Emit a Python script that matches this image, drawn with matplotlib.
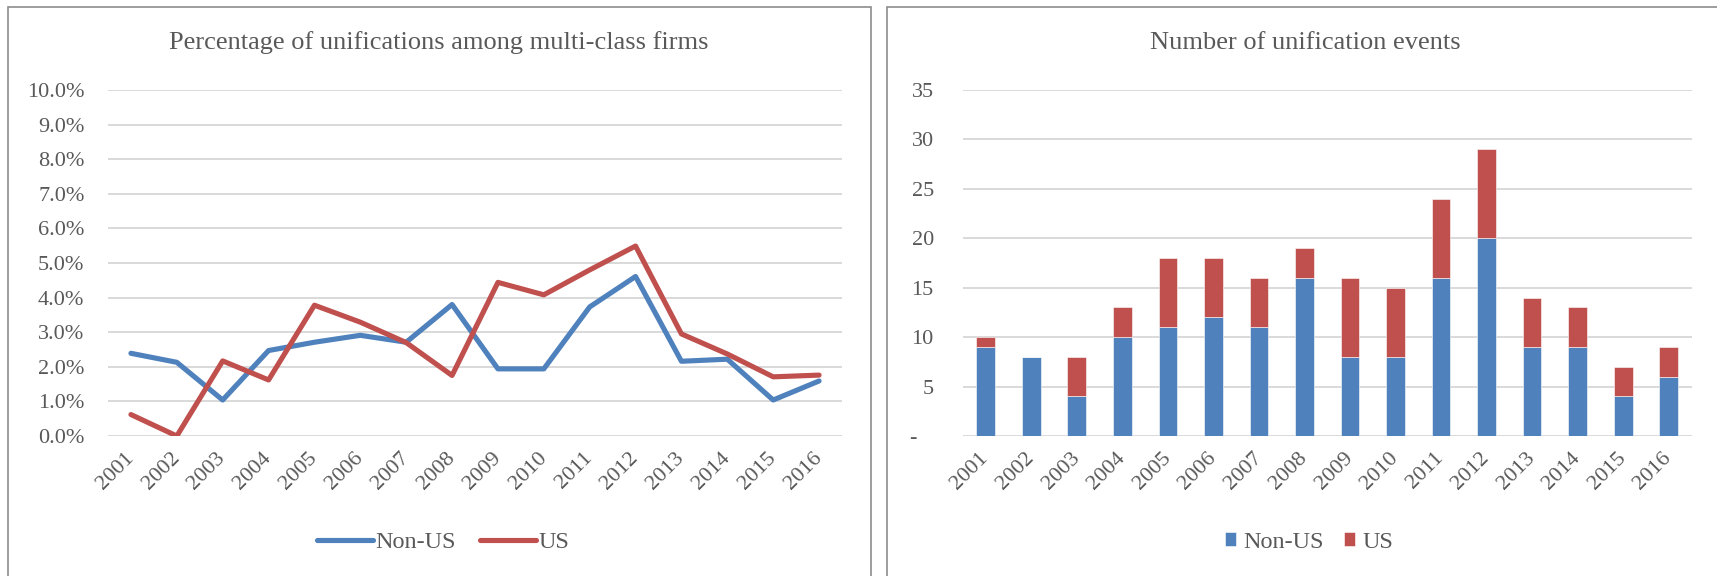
import matplotlib
matplotlib.use("Agg")
import matplotlib.pyplot as plt
from matplotlib.patches import Rectangle

years = ['2001', '2002', '2003', '2004', '2005', '2006', '2007', '2008',
         '2009', '2010', '2011', '2012', '2013', '2014', '2015', '2016']

# percentage of unifications among multi-class firms (in %)
pct_nonus = [2.39, 2.13, 1.04, 2.47, 2.71, 2.91, 2.71, 3.80,
             1.94, 1.94, 3.73, 4.61, 2.16, 2.22, 1.04, 1.59]
pct_us = [0.62, 0.0, 2.17, 1.62, 3.78, 3.29, 2.70, 1.75,
          4.44, 4.08, 4.80, 5.49, 2.95, 2.37, 1.71, 1.76]

# number of unification events
n_nonus = [9, 8, 4, 10, 11, 12, 11, 16, 8, 8, 16, 20, 9, 9, 4, 6]
n_us = [1, 0, 4, 3, 7, 6, 5, 3, 8, 7, 8, 9, 5, 4, 3, 3]

pct_ticks = [0, 1, 2, 3, 4, 5, 6, 7, 8, 9, 10]
cnt_ticks = [0, 5, 10, 15, 20, 25, 30, 35]

BLUE = '#4F81BD'
RED = '#C0504D'
TXT = '#595959'
GRID = '#D9D9D9'

plt.rcParams['font.family'] = ['Liberation Serif', 'DejaVu Serif']
plt.rcParams['text.color'] = TXT

W, H = 1717, 576
fig = plt.figure(figsize=(W / 100, H / 100), dpi=100)
fig.patch.set_facecolor('white')

# panel frames
for x0, x1 in [(8, 871), (887, 1740)]:
    fig.patches.append(Rectangle((x0 / W, -0.1), (x1 - x0) / W, 1.1 - 7 / H,
                                 transform=fig.transFigure, fill=False,
                                 edgecolor='#8C8C8C', linewidth=1.2, clip_on=False))


def style(ax, ypad):
    for s in ax.spines.values():
        s.set_visible(False)
    ax.grid(axis='y', color=GRID, linewidth=1.4)
    ax.set_axisbelow(True)
    ax.tick_params(axis='both', length=0, labelsize=16, colors=TXT)
    ax.tick_params(axis='y', pad=ypad)
    ax.set_xlim(-0.5, len(years) - 0.5)
    ax.set_xticks(range(len(years)))
    ax.set_xticklabels(years, rotation=45, ha='right', va='center',
                       rotation_mode='anchor')
    ax.tick_params(axis='x', pad=14)


# left: line chart
ax1 = fig.add_axes([108 / W, 140 / H, 734 / W, 346 / H])
style(ax1, 17)
x = range(len(years))
ax1.plot(x, pct_nonus, color=BLUE, linewidth=3.7, label='Non-US', solid_capstyle='round')
ax1.plot(x, pct_us, color=RED, linewidth=3.7, label='US', solid_capstyle='round')
ax1.set_ylim(0, 10)
ax1.set_yticks(pct_ticks)
ax1.set_yticklabels(['%.1f%%' % t for t in pct_ticks])
fig.text(439 / W, 1 - 43 / H, 'Percentage of unifications among multi-class firms',
         ha='center', va='center', fontsize=19, color=TXT)
ax1.legend(loc='center', bbox_to_anchor=(443 / W, 1 - 542 / H),
           bbox_transform=fig.transFigure, ncol=2, frameon=False, fontsize=17.5,
           handlelength=2.3, handletextpad=0.1, columnspacing=1.0,
           labelcolor=TXT)

# right: stacked bars
ax2 = fig.add_axes([963 / W, 140 / H, 728.5 / W, 346 / H])
style(ax2, 21)
ax2.bar(x, n_nonus, width=0.41, color=BLUE, label='Non-US', edgecolor='white', linewidth=0.4)
ax2.bar(x, n_us, width=0.41, bottom=n_nonus, color=RED, label='US', edgecolor='white', linewidth=0.4)
ax2.set_ylim(0, 35)
ax2.set_yticks(cnt_ticks)
ax2.set_yticklabels(['-   ' if t == 0 else str(t) for t in cnt_ticks])
fig.text(1305 / W, 1 - 43 / H, 'Number of unification events',
         ha='center', va='center', fontsize=19, color=TXT)
ax2.legend(loc='center', bbox_to_anchor=(1309 / W, 1 - 542 / H),
           bbox_transform=fig.transFigure, ncol=2, frameon=False, fontsize=17.5,
           handlelength=0.48, handleheight=0.48, handletextpad=0.3, columnspacing=0.8,
           labelcolor=TXT)

fig.savefig('out.png', dpi=100)
